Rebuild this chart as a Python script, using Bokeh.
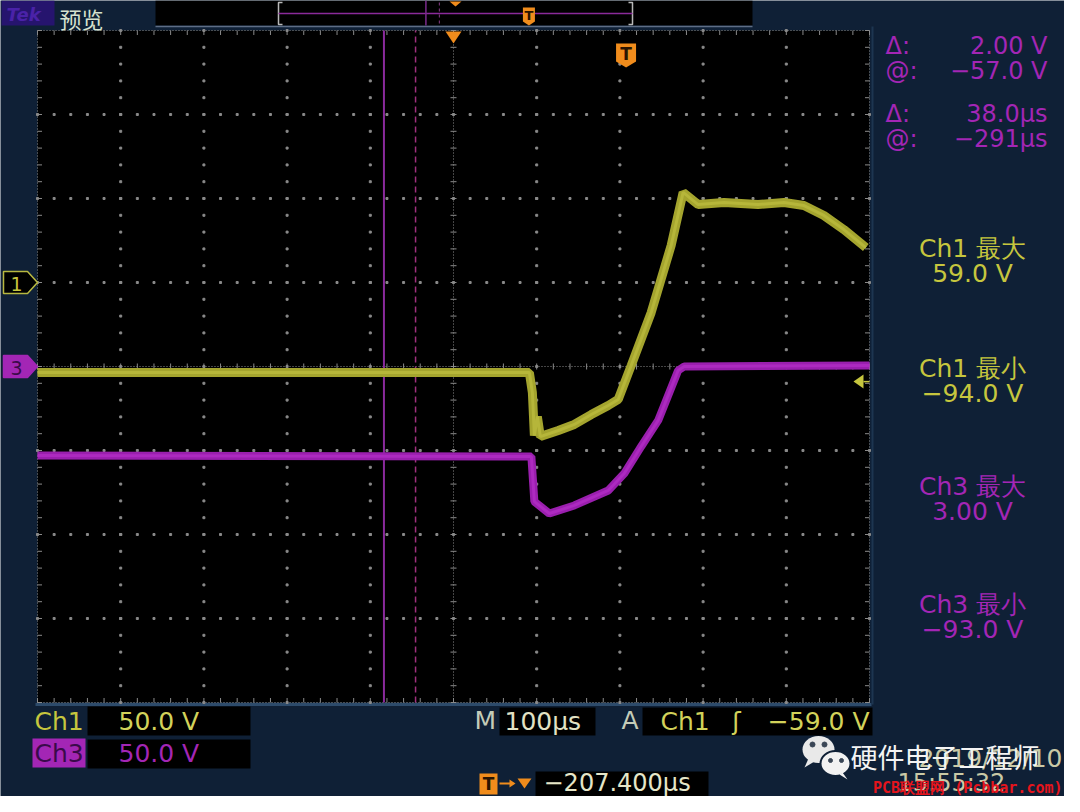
import numpy as np
from bokeh.plotting import figure
from bokeh.models import Range1d
from bokeh.embed import file_html
from bokeh.resources import INLINE
from bokeh.core.properties import value

# ---------------- data ----------------
# Ch1 (yellow) : time relative to trigger (us), volts
ch1_t = [-707.4, -116.2, -112.6, -110.2, -106.6, -103.0, -81.4, -62.2, -41.8, -21.4,
         -9.4, 6.2, 30.2, 54.2, 68.6, 86.6, 117.8, 158.6, 189.8, 213.8, 237.8, 261.8, 288.2]
ch1_v = [-53.6, -53.6, -65.5, -91.1, -79.8, -91.7, -88.1, -84.5, -78.6, -73.2,
         -69.6, -49.4, -17.9, 22.0, 53.6, 46.4, 47.6, 46.4, 47.6, 45.8, 39.9, 31.5, 20.8]
# Ch3 (magenta)
ch3_t = [-707.4, -113.8, -110.2, -92.2, -62.2, -21.4, -2.2, 18.2, 38.6, 62.6, 69.8, 292.6]
ch3_v = [-53.0, -53.6, -80.4, -87.5, -82.7, -73.8, -63.7, -47.6, -32.1, -2.4, 0.0, 0.6]

# scope settings
CH1_SCALE = 50.0     # V/div
CH3_SCALE = 50.0     # V/div
CH1_POS = 1.0        # div
CH3_POS = 0.0        # div
TIME_SCALE = 100.0   # us/div
H_POS = -207.4       # screen-centre time relative to trigger (us)
TRIG_LEVEL = -59.0   # V
cursor_t = [-291.0, -253.0]

cursor_labels = ["Δ:", "@:", "Δ:", "@:"]
cursor_values = ["2.00 V", "−57.0 V", "38.0µs", "−291µs"]
meas_names = ["Ch1 最大", "Ch1 最小", "Ch3 最大", "Ch3 最小"]
meas_values = ["59.0 V", "−94.0 V", "3.00 V", "−93.0 V"]
ch_scale_text = ["50.0 V", "50.0 V"]
time_text = "100µs"
trig_text = ["Ch1", "ʃ", "−59.0 V"]
hpos_text = "−207.400µs"
date_text = "2019/12/10"
clock_text = "15:55:32"

# ---------------- colours ----------------
NAVY = "#0f2036"
YEL = "#c6c63e"
MAG = "#a326b5"
ORANGE = "#f08c1c"
GRIDC = "#8a8a8a"

# ---------------- layout (page pixels) ----------------
W, H = 1064, 796
X0, Y0 = 8, 8
SL, SR, ST, SB = 45, 877, 38, 710

p = figure(width=W, height=H, x_range=Range1d(X0, X0 + W), y_range=Range1d(Y0 + H, Y0),
           output_backend="svg", toolbar_location=None, min_border=0,
           x_axis_type=None, y_axis_type=None,
           background_fill_color=NAVY, border_fill_color=NAVY, outline_line_color=None)
p.grid.visible = False

us_per_px = 10 * TIME_SCALE / (SR - SL)
t_left = H_POS - 5 * TIME_SCALE
p.extra_x_ranges["t"] = Range1d(t_left - (SL - X0) * us_per_px, t_left + (X0 + W - SL) * us_per_px)
ppd = (SB - ST) / 8.0
yc = (ST + SB) / 2.0
d_start, d_end = (yc - (Y0 + H)) / ppd, (yc - Y0) / ppd
p.extra_y_ranges["div"] = Range1d(d_start, d_end)
p.extra_y_ranges["v1"] = Range1d((d_start - CH1_POS) * CH1_SCALE, (d_end - CH1_POS) * CH1_SCALE)
p.extra_y_ranges["v3"] = Range1d((d_start - CH3_POS) * CH3_SCALE, (d_end - CH3_POS) * CH3_SCALE)


def t2px(t):
    return SL + (t - t_left) / us_per_px


def txt(x, y, s, color, size, align="left", font="DejaVu Sans", style="normal"):
    p.text(x=[x], y=[y], text=[s], text_color=color, text_font_size=f"{size}px",
           text_align=align, text_baseline="middle", text_font=value(font),
           text_font_style=style)


def box(l, r, t, b, color):
    p.quad(left=[l], right=[r], top=[t], bottom=[b], fill_color=color, line_color=None)


# ---------------- screen ----------------
box(SL, SR, ST, SB, "#000000")
p.line([SL - 2, SR + 2], [SB + 2, SB + 2], line_color="#2d4b6b", line_width=3)
p.line([SR + 3, SR + 3], [ST - 4, SB + 2], line_color="#1d3550", line_width=2)

ti = [t_left + i * TIME_SCALE for i in range(11)]
# grid dots
gx, gy = [], []
for i in range(1, 10):
    if i == 5:
        continue
    for d in np.arange(-4, 4.001, 0.2):
        gx.append(ti[i]); gy.append(d)
for j in range(-3, 4):
    if j == 0:
        continue
    for tt in np.arange(ti[0], ti[10] + 0.01, TIME_SCALE / 5):
        gx.append(tt); gy.append(j)
p.scatter(gx, gy, marker="square", size=2, color=GRIDC, x_range_name="t", y_range_name="div")

# centre cross and border: dense dotted lines with ticks
tick_t = 3 * us_per_px
tick_d = 3 / ppd
for (xs, ys) in [([ti[0], ti[10]], [0, 0]), ([ti[5], ti[5]], [-4, 4]),
                 ([ti[0], ti[10]], [4, 4]), ([ti[0], ti[10]], [-4, -4]),
                 ([ti[0], ti[0]], [-4, 4]), ([ti[10], ti[10]], [-4, 4])]:
    p.line(xs, ys, line_color=GRIDC, line_width=1, line_dash="1 2",
           x_range_name="t", y_range_name="div")
tt_all = np.arange(ti[0], ti[10] + 0.01, TIME_SCALE / 5)
dd_all = np.arange(-4, 4.001, 0.2)
p.segment(x0=tt_all, y0=-tick_d, x1=tt_all, y1=tick_d, line_color=GRIDC, line_width=1,
          x_range_name="t", y_range_name="div")
p.segment(x0=ti[5] - tick_t, y0=dd_all, x1=ti[5] + tick_t, y1=dd_all, line_color=GRIDC,
          line_width=1, x_range_name="t", y_range_name="div")
p.segment(x0=tt_all, y0=4, x1=tt_all, y1=4 - 1.5 * tick_d, line_color=GRIDC, x_range_name="t", y_range_name="div")
p.segment(x0=tt_all, y0=-4, x1=tt_all, y1=-4 + 1.5 * tick_d, line_color=GRIDC, x_range_name="t", y_range_name="div")
p.segment(x0=ti[0], y0=dd_all, x1=ti[0] + 1.5 * tick_t, y1=dd_all, line_color=GRIDC, x_range_name="t", y_range_name="div")
p.segment(x0=ti[10], y0=dd_all, x1=ti[10] - 1.5 * tick_t, y1=dd_all, line_color=GRIDC, x_range_name="t", y_range_name="div")

# cursors
p.segment(x0=[cursor_t[0]], y0=[-4], x1=[cursor_t[0]], y1=[4], line_color="#8a2a9c", line_width=2,
          x_range_name="t", y_range_name="div")
p.segment(x0=[cursor_t[1]], y0=[-4], x1=[cursor_t[1]], y1=[4], line_color="#a0307e", line_width=1.5,
          line_dash="6 4", x_range_name="t", y_range_name="div")

# waveforms (thick band = acquisition noise envelope)
p.line(ch3_t, ch3_v, line_color="#9a1fae", line_width=8, x_range_name="t", y_range_name="v3")
p.line(ch3_t, ch3_v, line_color="#ad2ac0", line_width=3, x_range_name="t", y_range_name="v3")
p.line(ch1_t, ch1_v, line_color="#a4a42e", line_width=9, x_range_name="t", y_range_name="v1")
p.line(ch1_t, ch1_v, line_color="#b6b63a", line_width=3, x_range_name="t", y_range_name="v1")

# trigger position marker (T) and expansion marker in screen
xT = t2px(0.0)
xC = t2px(H_POS)
p.patch([xC - 8, xC + 8, xC], [ST + 1, ST + 1, ST + 13], fill_color=ORANGE, line_color=None)
p.patch([xT - 10, xT + 10, xT + 10, xT, xT - 10], [51, 51, 69, 75, 69], fill_color=ORANGE, line_color=None)
txt(xT, 61, "T", "#2a1400", 17, align="center", style="bold")

# trigger level arrow (right)
y_trig = yc - (TRIG_LEVEL / CH1_SCALE + CH1_POS) * ppd
p.patch([SR - 16, SR - 6, SR - 6], [y_trig, y_trig - 7, y_trig + 7], fill_color=YEL, line_color=None)
p.line([SR - 6, SR], [y_trig, y_trig], line_color=YEL, line_width=1.5)

# channel ground markers (left)
for pos, fill, edge, lab, lc in [(CH1_POS, "#000000", "#b8b840", "1", YEL),
                                  (CH3_POS, MAG, MAG, "3", "#3a0a4a")]:
    y = yc - pos * ppd
    p.patch([11, 35, SL, 35, 11], [y - 11, y - 11, y, y + 11, y + 11], fill_color=fill,
            line_color=edge, line_width=1.5)
    txt(24, y + 1, lab, lc, 19, align="center")

# ---------------- top bar ----------------
box(9, 62, 8, 33, "#26146e")
txt(14, 22, "Tek", "#4a22a8", 18, style="bold italic")
txt(67, 25, "预览", "#d6e2cf", 22, font="Noto Sans CJK SC")
box(163, 760, 8, 33, "#000000")
p.line([163, 760], [34, 34], line_color="#5e6e86", line_width=1.5)
RL, RR = 286, 640
rec_pp = (RR - RL) / (10 * TIME_SCALE)
rc = (RL + RR) / 2
p.line([RL + 4, RL, RL, RL + 4], [10, 10, 32, 32], line_color="#b8b8b8", line_width=1.5)
p.line([RR - 4, RR, RR, RR - 4], [10, 10, 32, 32], line_color="#b8b8b8", line_width=1.5)
p.line([RL, RR], [21, 21], line_color="#8a2a9a", line_width=1.5)
xr1 = rc + (cursor_t[0] - H_POS) * rec_pp
xr2 = rc + (cursor_t[1] - H_POS) * rec_pp
p.line([xr1, xr1], [8, 33], line_color="#7a2a8c", line_width=1.5)
p.line([xr2, xr2], [10, 32], line_color="#8a3a8a", line_width=1, line_dash="3 3")
p.patch([rc - 6, rc + 6, rc], [9, 9, 14], fill_color=ORANGE, line_color=None)
xrT = rc + (0 - H_POS) * rec_pp
p.patch([xrT - 6, xrT + 6, xrT + 6, xrT, xrT - 6], [15, 15, 29, 33, 29], fill_color=ORANGE, line_color=None)
txt(xrT, 23, "T", "#2a1400", 13, align="center", style="bold")

# ---------------- right panel ----------------
for k, (lab, val) in enumerate(zip(cursor_labels, cursor_values)):
    y = [53, 78, 121, 146][k]
    txt(893, y, lab, MAG, 24)
    txt(1055, y, val, MAG, 24, align="right")
for k, (nm, val) in enumerate(zip(meas_names, meas_values)):
    y = [256, 376, 494, 612][k]
    col = YEL if nm.startswith("Ch1") else MAG
    txt(980, y, nm, col, 25, align="center")
    txt(980, y + 25, val, col, 25, align="center")

# ---------------- bottom bar ----------------
txt(42, 729, "Ch1", YEL, 25)
box(95, 258, 714, 743, "#000000")
txt(126, 729, ch_scale_text[0], "#d2d25a", 25)
box(40, 93, 746, 775, MAG)
txt(42, 761, "Ch3", "#3a0a4a", 25)
box(95, 258, 747, 776, "#000000")
txt(126, 761, ch_scale_text[1], MAG, 25)

txt(482, 728, "M", "#c4ccb8", 25)
box(507, 603, 715, 743, "#000000")
txt(512, 729, time_text, "#e2e2c4", 25)
txt(629, 728, "A", "#c4ccb8", 25)
box(650, 880, 715, 743, "#000000")
txt(668, 729, trig_text[0], "#d2d25a", 25)
txt(744, 729, trig_text[1], "#d2d25a", 25, align="center")
txt(877, 729, trig_text[2], "#d2d25a", 25, align="right")

p.patch([487, 505, 505, 487], [781, 781, 802, 802], fill_color=ORANGE, line_color=None)
txt(496, 791, "T", "#2a1400", 17, align="center", style="bold")
p.line([507, 521], [791, 791], line_color=ORANGE, line_width=2)
p.patch([517, 523, 517], [787, 791, 795], fill_color=ORANGE, line_color=None)
p.patch([525, 539, 532], [786, 786, 796], fill_color=ORANGE, line_color=None)
box(543, 716, 779, 806, "#000000")
txt(551, 790, hpos_text, "#e6e6c8", 24)

# date / clock (partly hidden by watermark)
txt(1070, 766, date_text, "#c9c9a6", 25, align="right")
txt(905, 790, clock_text, "#c9c9a6", 24)

# watermark (wechat logo + name, site)
p.ellipse(x=[826], y=[757], width=32, height=27, fill_color="#e9e9e9", line_color=None)
p.ellipse(x=[843], y=[771], width=30, height=25, fill_color="#f2f2f2", line_color=NAVY, line_width=2)
p.patch([816, 812, 822], [766, 775, 769], fill_color="#e9e9e9", line_color=None)
p.patch([850, 855, 847], [780, 787, 782], fill_color="#f2f2f2", line_color=None)
p.scatter(x=[820, 832], y=[752, 752], size=5, color="#3a4656")
p.scatter(x=[838, 849], y=[768, 768], size=4, color="#3a4656")
txt(858, 764, "硬件电子工程师", "#f4f4f4", 27, font="Noto Sans CJK SC")
txt(1070, 795, "PCB联盟网 (Pcbbar.com)", "#e5141c", 15, align="right", font="DejaVu Sans Mono",
    style="bold")

open("out.html", "w").write(file_html(p, INLINE, title="oscilloscope"))
